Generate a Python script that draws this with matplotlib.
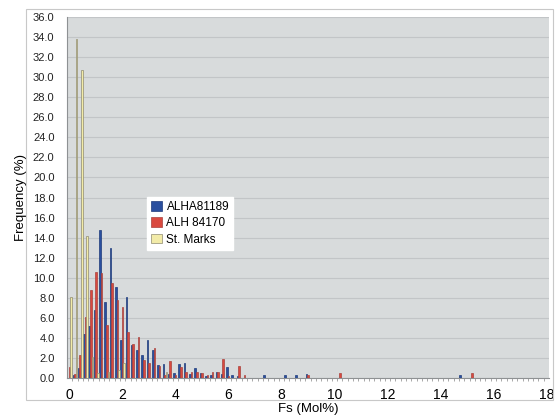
import matplotlib
matplotlib.use('Agg')
import matplotlib.pyplot as plt
from matplotlib.patches import Rectangle
import numpy as np

plt.rcParams['font.family'] = ['Liberation Sans', 'DejaVu Sans']

# Fs (Mol%) bins of 0.2, from 0.0 to 18.0
fs_bins = np.round(np.arange(91) * 0.2, 1)

alha81189 = [
    0.0, 0.3, 1.0, 4.4, 5.2, 6.8, 14.8, 7.6, 13.0, 9.1,
    3.8, 8.1, 3.3, 2.8, 2.3, 3.8, 2.8, 1.3, 1.4, 0.4,
    0.5, 1.4, 1.5, 0.4, 1.0, 0.5, 0.2, 0.3, 0.6, 0.4,
    1.1, 0.3, 0.2, 0.0, 0.0, 0.0, 0.0, 0.3, 0.0, 0.0,
    0.0, 0.3, 0.0, 0.3, 0.0, 0.4, 0.0, 0.0, 0.0, 0.0,
    0.0, 0.0, 0.0, 0.0, 0.0, 0.0, 0.0, 0.0, 0.0, 0.0,
    0.0, 0.0, 0.0, 0.0, 0.0, 0.0, 0.0, 0.0, 0.0, 0.0,
    0.0, 0.0, 0.0, 0.0, 0.3, 0.0, 0.0, 0.0, 0.0, 0.0,
    0.0, 0.0, 0.0, 0.0, 0.0, 0.0, 0.0, 0.0, 0.0, 0.0,
    0.0,
]
alh84170 = [
    1.1, 0.4, 2.3, 6.1, 8.8, 10.6, 10.5, 5.3, 9.5, 7.8,
    7.1, 4.6, 3.4, 4.1, 1.8, 1.5, 3.0, 1.2, 0.3, 1.7,
    0.3, 1.1, 0.6, 0.6, 0.6, 0.5, 0.3, 0.6, 0.6, 1.9,
    0.2, 0.0, 1.2, 0.3, 0.0, 0.0, 0.0, 0.0, 0.0, 0.0,
    0.0, 0.0, 0.0, 0.0, 0.0, 0.3, 0.0, 0.0, 0.0, 0.0,
    0.0, 0.5, 0.0, 0.0, 0.0, 0.0, 0.0, 0.0, 0.0, 0.0,
    0.0, 0.0, 0.0, 0.0, 0.0, 0.0, 0.0, 0.0, 0.0, 0.0,
    0.0, 0.0, 0.0, 0.0, 0.0, 0.0, 0.5, 0.0, 0.0, 0.0,
    0.0, 0.0, 0.0, 0.0, 0.0, 0.0, 0.0, 0.0, 0.0, 0.0,
    0.0,
]
st_marks = [
    8.1, 33.8, 30.7, 14.2, 2.1, 0.5, 0.0, 0.6, 0.0, 0.8,
    1.5, 0.0, 0.0, 0.0, 0.0, 0.0, 0.0, 0.0, 0.6, 0.0,
] + [0.0] * 71

series = [
    ('ALHA81189', alha81189, '#2a4f9f', '#1d3a7a'),
    ('ALH 84170', alh84170, '#d9493f', '#a8423d'),
    ('St. Marks', st_marks, '#f2eba8', '#8f8b70'),
]

fig = plt.figure(figsize=(5.55, 4.16), dpi=100)
ax = fig.add_axes([67 / 555, 1 - 378 / 416, 482 / 555, 361 / 416])
ax.set_facecolor('#d8dbdc')

w = 0.2 * 0.3
for i, (name, vals, col, edge) in enumerate(series):
    ax.bar(fs_bins + (i - 1) * w, vals, width=w, color=col,
           edgecolor=edge, linewidth=0.5, label=name, zorder=3)

ax.set_xlim(-0.1, 18.1)
ax.set_ylim(0, 36)
ax.set_yticks(np.arange(0, 37, 2))
ax.set_yticklabels(['%.1f' % v for v in np.arange(0, 37, 2)])
ax.set_xticks(np.arange(0, 19, 2))
ax.set_xticks(fs_bins[:-1] + 0.1, minor=True)
ax.tick_params(axis='x', which='major', length=0, labelsize=10, pad=7)
ax.tick_params(axis='x', which='minor', length=2, color='#9a9a9a', direction='out')
ax.tick_params(axis='y', length=0, labelsize=8, pad=9, labelcolor='#222222')
ax.grid(axis='y', color='#c2c5c7', linewidth=0.8, zorder=0)

for s in ['top', 'right']:
    ax.spines[s].set_visible(False)
ax.spines['left'].set_color('#8e9193')
ax.spines['bottom'].set_color('#8e9193')

ax.set_xlabel('Fs (Mol%)', fontsize=9.5, labelpad=1)
ax.set_ylabel('Frequency (%)', fontsize=9.5, labelpad=4)

leg = ax.legend(loc='upper left', bbox_to_anchor=(0.166, 0.501), borderaxespad=0,
                fontsize=8.5, frameon=True, fancybox=False, handlelength=0.9,
                handleheight=0.9, handletextpad=0.4, labelspacing=0.35,
                borderpad=0.35)
leg.get_frame().set_facecolor('white')
leg.get_frame().set_edgecolor('white')
leg.get_frame().set_alpha(1)

fig.patches.append(Rectangle((26 / 555, 1 - 400 / 416), 527 / 555, 391 / 416,
                             transform=fig.transFigure, fill=False,
                             edgecolor='#c8c8c8', linewidth=0.8))

fig.savefig('out.png', dpi=100)
